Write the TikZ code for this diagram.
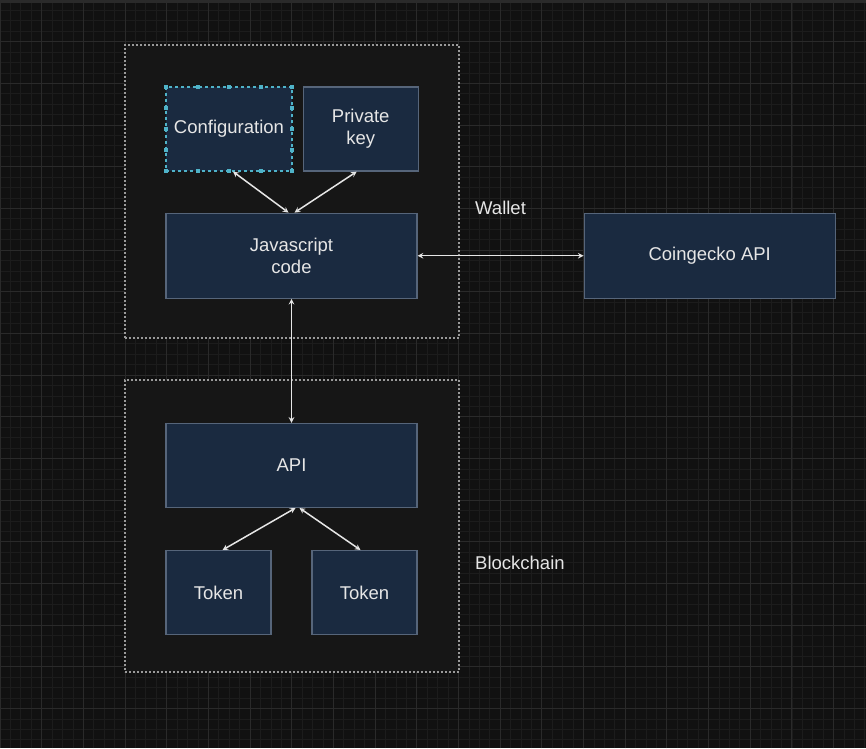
\documentclass[tikz,border=0pt]{standalone}
\usepackage{fontspec}
\setmainfont{Liberation Sans}
\usepackage{xcolor}
\usepackage{tikz}
\usetikzlibrary{arrows,
                positioning,
                shapes}
\definecolor{bgdark}{HTML}{111111}
\definecolor{gridminor}{HTML}{1C1C1C}
\definecolor{gridmajor}{HTML}{2A2A2A}
\definecolor{groupfill}{HTML}{161616}
\definecolor{groupline}{HTML}{9A9A9A}
\definecolor{boxfill}{HTML}{1A2A40}
\definecolor{boxline}{HTML}{56657A}
\definecolor{selcyan}{HTML}{4FB3C8}
\definecolor{txt}{HTML}{E6E6E6}
\tikzstyle{biarrow} = [line width=1.5pt,<->,>=stealth,draw=txt]
\tikzstyle{block} = [rectangle,fill=boxfill,draw=boxline,line width=1.2pt,inner sep=0pt,text=txt,align=center,font=\fontsize{18.5}{22}\selectfont]
\tikzstyle{group} = [rectangle,fill=groupfill,draw=groupline,line width=1.2pt,dash pattern=on 2pt off 2pt,inner sep=0pt]
\tikzstyle{grouplabel} = [anchor=west,inner sep=0pt,text=txt,font=\fontsize{18.5}{22}\selectfont]

\begin{document}
\begin{tikzpicture}[x=1pt,y=-1pt]

    % background with grid
    \fill[bgdark] (0,0) rectangle (866,748);
    \useasboundingbox (0,0) rectangle (866,748);
    \draw[gridminor,line width=0.8pt,step=10.42pt] (0,0) grid (866,748);
    \draw[gridmajor,line width=1pt,step=41.67pt] (0,0) grid (866,748);
    \draw[gridmajor,line width=2pt] (0,2) -- (866,2);

    % containers
    \node[group, minimum width=334pt, minimum height=293pt] (wallet) at (292,191.5) {};
    \node[group, minimum width=334pt, minimum height=292pt] (chain) at (292,526) {};
    \node[grouplabel] (walletlbl) at (475,208) {Wallet};
    \node[grouplabel] (chainlbl) at (475,563) {Blockchain};

    % blocks
    \node[block, minimum width=126pt, minimum height=84pt, draw=selcyan, dashed] (conf) at (229,129) {Configuration};
    \node[block, minimum width=115pt, minimum height=84pt] (pkey) [right=10pt of conf] {Private\\key};
    \node[block, minimum width=251pt, minimum height=85pt] (js) [below=41pt of conf.south west, anchor=north west] {Javascript\\code};
    \node[block, minimum width=251pt, minimum height=85pt] (coin) [right=166pt of js] {Coingecko API};
    \node[block, minimum width=251pt, minimum height=84pt] (api) [below=124pt of js] {API};
    \node[block, minimum width=105pt, minimum height=84pt] (tok1) [below=42pt of api.south west, anchor=north west] {Token};
    \node[block, minimum width=105pt, minimum height=84pt] (tok2) [below=42pt of api.south east, anchor=north east] {Token};

    % selection handles
    \foreach \hx in {166,197.5,229,260.5,292} {
        \fill[selcyan] (\hx-2,85) rectangle (\hx+2,89);
        \fill[selcyan] (\hx-2,169) rectangle (\hx+2,173);
    }
    \foreach \hy in {108,129,150} {
        \fill[selcyan] (164,\hy-2) rectangle (168,\hy+2);
        \fill[selcyan] (290,\hy-2) rectangle (294,\hy+2);
    }

    \draw [biarrow] ([xshift=4pt]conf.south) -- ([xshift=-3pt]js.north);
    \draw [biarrow] ([xshift=-4pt]pkey.south) -- ([xshift=3pt]js.north);
    \draw [biarrow] (js.east) -- (coin.west);
    \draw [biarrow] (js.south) -- (api.north);
    \draw [biarrow] ([xshift=4pt]api.south) -- ([xshift=4pt]tok1.north);
    \draw [biarrow] ([xshift=8pt]api.south) -- ([xshift=-4pt]tok2.north);
\end{tikzpicture}
\end{document}
